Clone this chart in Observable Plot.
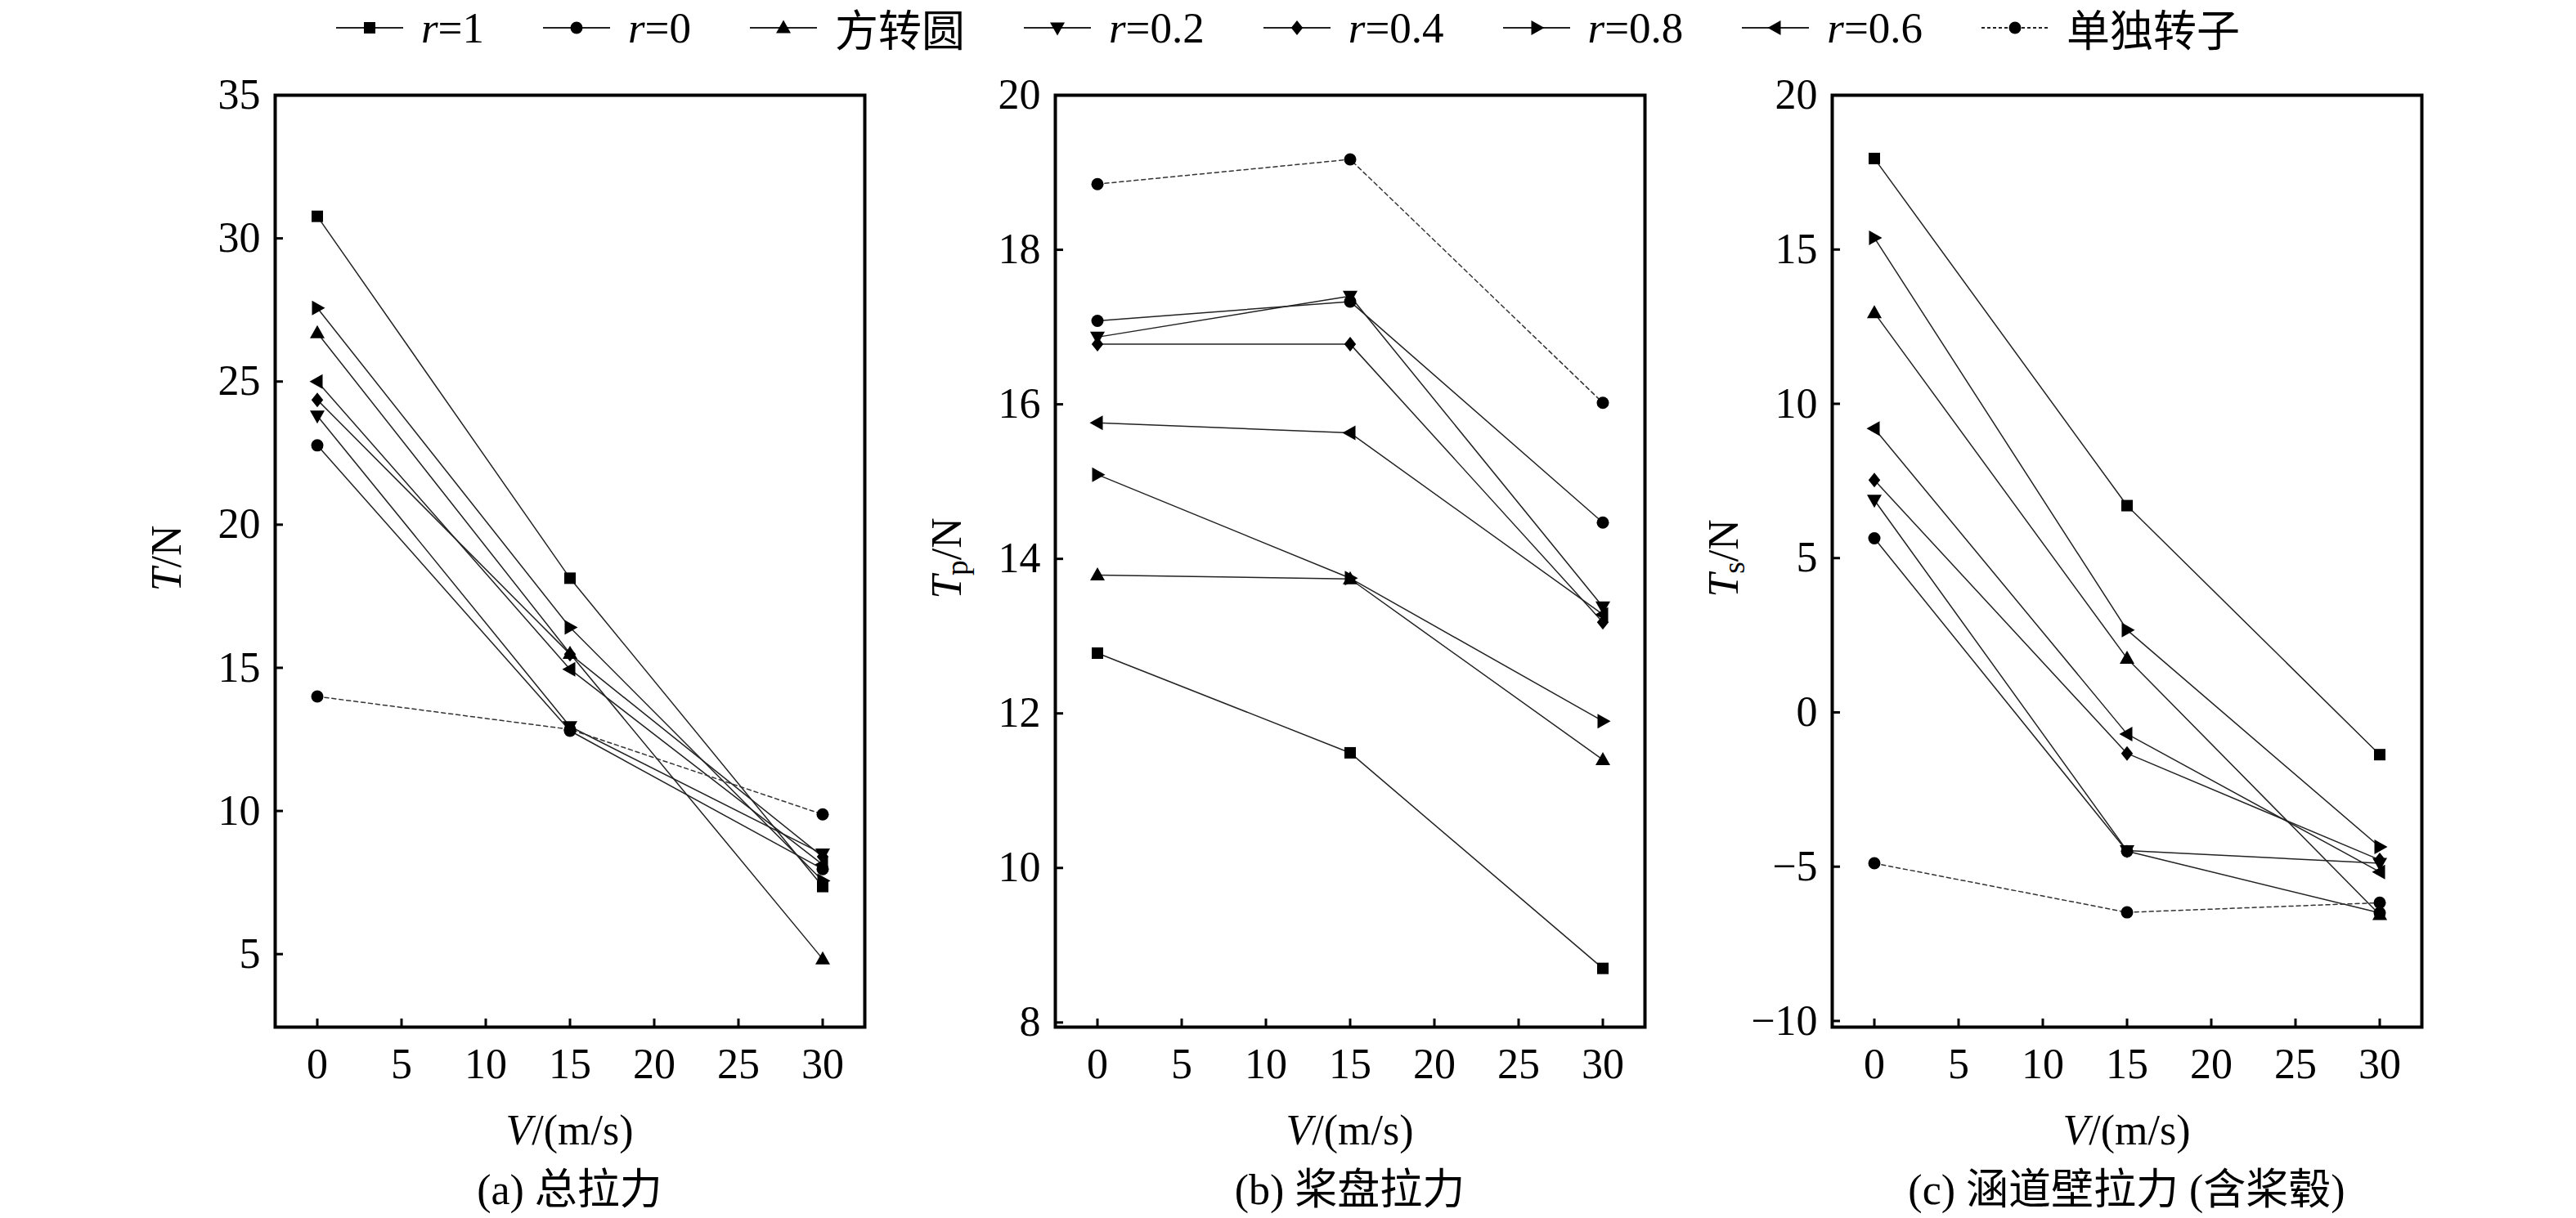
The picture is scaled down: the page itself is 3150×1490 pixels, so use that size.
<!DOCTYPE html>
<html>
<head>
<meta charset="utf-8">
<script src="https://cdn.jsdelivr.net/npm/d3@7"></script>
<script src="https://cdn.jsdelivr.net/npm/@observablehq/plot@0.6"></script>
<style>
  html, body { margin: 0; padding: 0; background: #fff; }
  #root { position: relative; width: 3150px; height: 1490px; overflow: hidden;
          font-family: "Liberation Serif", "Times New Roman", Tinos, "DejaVu Serif", serif, "Noto Sans CJK SC"; color: #000; }
  .lbl { position: absolute; white-space: nowrap; font-size: 52px; line-height: 1;
         transform: translate(-50%, -50%); }
  .ylbl { position: absolute; white-space: nowrap; font-size: 52px; line-height: 1;
          transform: translate(-50%, -50%) rotate(-90deg); }
  .ylbl sub { font-size: 0.72em; vertical-align: -0.22em; line-height: 0; }
  #legend { position: absolute; left: 0; top: 0; width: 3150px; height: 68px;
            display: flex; justify-content: center; align-items: center; gap: 72px;
            font-size: 53px; }
  .item { display: flex; align-items: center; }
  .item svg { margin-right: 22px; }
  .panel { position: absolute; top: 0; }
</style>
</head>
<body>
<div id="root"></div>
<script>
// ---------------- data ----------------
const speeds = [0, 15, 30];                       // V/(m/s)
const seriesNames = ["r=1", "r=0", "方转圆", "r=0.2", "r=0.4", "r=0.8", "r=0.6", "单独转子"];
const seriesShapes = ["square", "circle", "up", "down", "diamond", "right", "left", "circle"];
const seriesDashed = [false, false, false, false, false, false, false, true];

// (a) 总拉力 T/N
const totalThrust = [
  [30.77, 18.13, 7.36],
  [22.77, 12.80, 7.97],
  [26.70, 15.50, 4.83],
  [23.80, 12.95, 8.50],
  [24.36, 15.48, 8.40],
  [27.57, 16.41, 7.56],
  [25.00, 14.95, 8.13],
  [14.00, 12.85, 9.88]
];
// (b) 桨盘拉力 Tp/N
const rotorThrust = [
  [12.78, 11.49, 8.70],
  [17.08, 17.33, 14.47],
  [13.79, 13.74, 11.40],
  [16.87, 17.40, 13.38],
  [16.78, 16.78, 13.18],
  [15.09, 13.75, 11.90],
  [15.76, 15.63, 13.28],
  [18.85, 19.17, 16.02]
];
// (c) 涵道壁拉力 (含桨毂) Ts/N
const ductThrust = [
  [17.95, 6.70, -1.37],
  [5.64, -4.50, -6.50],
  [12.95, 1.75, -6.56],
  [6.88, -4.48, -4.89],
  [7.53, -1.33, -4.78],
  [15.38, 2.67, -4.36],
  [9.20, -0.70, -5.17],
  [-4.89, -6.48, -6.17]
];

const xTicks = [0, 5, 10, 15, 20, 25, 30];
const yTicksA = [5, 10, 15, 20, 25, 30, 35];
const yTicksB = [8, 10, 12, 14, 16, 18, 20];
const yTicksC = [-10, -5, 0, 5, 10, 15, 20];

// ---------------- symbols ----------------
const shapes = {
  square: c => { c.rect(-7, -7, 14, 14); },
  circle: c => { c.moveTo(7.5, 0); c.arc(0, 0, 7.5, 0, 2 * Math.PI); c.closePath(); },
  up: c => { c.moveTo(0, -9.5); c.lineTo(9, 6.5); c.lineTo(-9, 6.5); c.closePath(); },
  down: c => { c.moveTo(0, 9.5); c.lineTo(9, -6.5); c.lineTo(-9, -6.5); c.closePath(); },
  right: c => { c.moveTo(9.5, 0); c.lineTo(-6.5, -9); c.lineTo(-6.5, 9); c.closePath(); },
  left: c => { c.moveTo(-9.5, 0); c.lineTo(6.5, -9); c.lineTo(6.5, 9); c.closePath(); },
  diamond: c => { c.moveTo(0, -9); c.lineTo(7.2, 0); c.lineTo(0, 9); c.lineTo(-7.2, 0); c.closePath(); }
};
const symbolOf = name => ({ draw(context) { shapes[name](context); } });

const fontFamily = '"Liberation Serif", "Times New Roman", Tinos, "DejaVu Serif", serif, "Noto Sans CJK SC"';
const root = document.getElementById("root");

// ---------------- legend ----------------
const legend = document.createElement("div");
legend.id = "legend";
seriesNames.forEach((name, i) => {
  const item = document.createElement("div");
  item.className = "item";
  const p = d3.path(); shapes[seriesShapes[i]](p);
  const dash = seriesDashed[i] ? ' stroke-dasharray="4,3"' : "";
  item.innerHTML =
    `<svg width="82" height="30" viewBox="0 0 82 30"><line x1="0" x2="82" y1="15" y2="15" stroke="#222" stroke-width="1.8"${dash}/>` +
    `<path transform="translate(41,15)" d="${p.toString()}" fill="#000"/></svg>`;
  const span = document.createElement("span");
  span.innerHTML = name.startsWith("r=") ? `<i>r</i>=${name.slice(2)}` : name;
  item.appendChild(span);
  legend.appendChild(item);
});
root.appendChild(legend);

// ---------------- panels ----------------
const frameW = 721, frameTop = 116, frameH = 1140;
const mL = 200, mR = 40, mB = 110;

function makePanel(values, yDomain, yTicks) {
  const rows = [];
  values.forEach((vals, s) => vals.forEach((v, k) => rows.push({ s, V: speeds[k], v })));
  const marks = [
    Plot.frame({ stroke: "#000", strokeWidth: 4 }),
    Plot.axisX({ ticks: xTicks, tickSize: -10, tickPadding: 36, strokeWidth: 3, label: null, fontSize: 52, fontFamily }),
    Plot.axisY({ ticks: yTicks, tickSize: -10, tickPadding: 28, strokeWidth: 3, label: null, fontSize: 52, fontFamily })
  ];
  seriesNames.forEach((name, s) => {
    const data = rows.filter(d => d.s === s);
    marks.push(Plot.line(data, {
      x: "V", y: "v",
      stroke: seriesDashed[s] ? "#333" : "#222",
      strokeWidth: 1.5,
      strokeDasharray: seriesDashed[s] ? "5,4" : null
    }));
  });
  seriesNames.forEach((name, s) => {
    const data = rows.filter(d => d.s === s);
    marks.push(Plot.dot(data, { x: "V", y: "v", r: 4, symbol: symbolOf(seriesShapes[s]), fill: "#000", stroke: "none" }));
  });
  return Plot.plot({
    width: mL + frameW + mR,
    height: frameTop + frameH + mB,
    marginLeft: mL, marginRight: mR, marginTop: frameTop, marginBottom: mB,
    x: { domain: [-2.5, 32.5] },
    y: { domain: yDomain },
    style: { fontFamily, fontSize: "52px", color: "#000", background: "transparent", overflow: "visible" },
    marks
  });
}

const panels = [
  { left: 336, values: totalThrust, domain: [2.45, 35], ticks: yTicksA,
    ylabel: "<i>T</i>/N", caption: "(a) 总拉力" },
  { left: 1290, values: rotorThrust, domain: [7.94, 20], ticks: yTicksB,
    ylabel: "<i>T</i><sub>p</sub>/N", caption: "(b) 桨盘拉力" },
  { left: 2240, values: ductThrust, domain: [-10.2, 20], ticks: yTicksC,
    ylabel: "<i>T</i><sub>s</sub>/N", caption: "(c) 涵道壁拉力 (含桨毂)" }
];

panels.forEach(p => {
  const wrap = document.createElement("div");
  wrap.className = "panel";
  wrap.style.left = (p.left - mL) + "px";
  wrap.appendChild(makePanel(p.values, p.domain, p.ticks));
  root.appendChild(wrap);

  const cx = p.left + frameW / 2;
  const xl = document.createElement("div");
  xl.className = "lbl";
  xl.style.left = cx + "px"; xl.style.top = "1383px";
  xl.innerHTML = "<i>V</i>/(m/s)";
  root.appendChild(xl);

  const cap = document.createElement("div");
  cap.className = "lbl";
  cap.style.left = cx + "px"; cap.style.top = "1456px";
  cap.textContent = p.caption;
  root.appendChild(cap);

  const yl = document.createElement("div");
  yl.className = "ylbl";
  yl.style.left = (p.left - 132) + "px"; yl.style.top = "683px";
  yl.innerHTML = p.ylabel;
  root.appendChild(yl);
});
</script>
</body>
</html>
